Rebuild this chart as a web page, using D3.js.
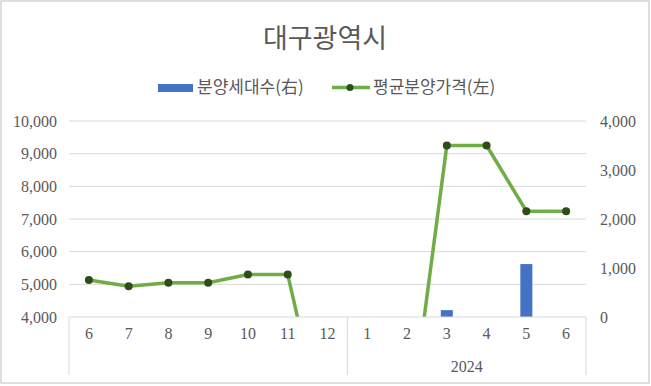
<!DOCTYPE html>
<html>
<head>
<meta charset="utf-8">
<script src="https://cdn.jsdelivr.net/npm/d3@7"></script>
<style>
  body { margin: 0; background: #fff; }
</style>
</head>
<body>
<svg id="chart"></svg>
<script>
// 월별 값 (2023.6 ~ 2024.6)
var months = ["6", "7", "8", "9", "10", "11", "12", "1", "2", "3", "4", "5", "6"];
var yearGroups = [{label: "", from: 0, to: 6}, {label: "2024", from: 7, to: 12}];
var price = [5130, 4940, 5050, 5050, 5300, 5300, 0, 0, 0, 9250, 9250, 7240, 7240]; // 평균분양가격(左)
var units = [0, 0, 0, 0, 0, 0, 0, 0, 0, 140, 0, 1080, 0];                      // 분양세대수(右)
var leftTicks = [4000, 5000, 6000, 7000, 8000, 9000, 10000];
var rightTicks = [0, 1000, 2000, 3000, 4000];

var width = 651, height = 386;
var plotL = 69, plotR = 586, plotT = 121, plotB = 317;
var serif = "'Liberation Serif', 'Times New Roman', serif";

var svg = d3.select("#chart")
    .attr("width", width)
    .attr("height", height);

// 바깥 테두리
svg.append("rect")
    .attr("x", 1).attr("y", 1)
    .attr("width", width - 3).attr("height", 382)
    .attr("fill", "none")
    .attr("stroke", "#d4d4d4")
    .attr("stroke-width", 1.5);

var x = d3.scaleBand().domain(d3.range(months.length)).range([plotL, plotR]);
var yL = d3.scaleLinear().domain([4000, 10000]).range([plotB, plotT]);
var yR = d3.scaleLinear().domain([0, 4000]).range([plotB, plotT]);

// 제목
svg.append("text")
    .attr("x", 325).attr("y", 48)
    .attr("text-anchor", "middle")
    .attr("font-family", "'Noto Sans CJK KR', sans-serif")
    .attr("font-size", 27)
    .attr("fill", "#595959")
    .text("대구광역시");

// 범례
var legend = svg.append("g")
    .attr("font-family", "'Noto Sans CJK KR', sans-serif")
    .attr("font-size", 17)
    .attr("fill", "#595959");
legend.append("rect")
    .attr("x", 158).attr("y", 84).attr("width", 35).attr("height", 8)
    .attr("fill", "#4472c4");
legend.append("text").attr("x", 197).attr("y", 93).text("분양세대수(右)");
legend.append("line")
    .attr("x1", 332).attr("x2", 370).attr("y1", 87.5).attr("y2", 87.5)
    .attr("stroke", "#70ad47").attr("stroke-width", 3.5);
legend.append("circle").attr("cx", 350).attr("cy", 87.5).attr("r", 3.5).attr("fill", "#2e4d1c");
legend.append("text").attr("x", 373).attr("y", 93).text("평균분양가격(左)");

// 격자선
svg.append("g").selectAll("line")
    .data(leftTicks.slice(1))
    .enter()
    .append("line")
    .attr("x1", plotL).attr("x2", plotR)
    .attr("y1", function(d) { return yL(d); })
    .attr("y2", function(d) { return yL(d); })
    .attr("stroke", "#d9d9d9");

function styleTicks(ax, size) {
    ax.select(".domain").remove();
    ax.attr("font-family", serif).attr("font-size", size);
    ax.selectAll(".tick text").attr("fill", "#595959");
}

// 왼쪽 축
var axL = svg.append("g")
    .attr("transform", "translate(" + (plotL - 4) + ",0)")
    .call(d3.axisLeft(yL).tickValues(leftTicks).tickSize(0).tickPadding(8).tickFormat(d3.format(",")));
styleTicks(axL, 16);

// 오른쪽 축
var axR = svg.append("g")
    .attr("transform", "translate(" + (plotR + 6) + ",0)")
    .call(d3.axisRight(yR).tickValues(rightTicks).tickSize(0).tickPadding(8).tickFormat(d3.format(",")));
styleTicks(axR, 16);

// 막대
svg.append("g").selectAll("rect")
    .data(units)
    .enter()
    .append("rect")
    .attr("x", function(d, i) { return x(i) + x.bandwidth() / 2 - 6; })
    .attr("y", function(d) { return yR(d); })
    .attr("width", 12)
    .attr("height", function(d) { return plotB - yR(d); })
    .attr("fill", "#4472c4");

// 선 (플롯 영역 밖은 잘라냄)
svg.append("clipPath").attr("id", "plot")
    .append("rect").attr("x", plotL).attr("y", plotT - 20)
    .attr("width", plotR - plotL).attr("height", plotB - plotT + 20);

var line = d3.line()
    .x(function(d, i) { return x(i) + x.bandwidth() / 2; })
    .y(function(d) { return yL(d); });

var g = svg.append("g").attr("clip-path", "url(#plot)");
g.append("path")
    .datum(price)
    .attr("d", line)
    .attr("fill", "none")
    .attr("stroke", "#70ad47")
    .attr("stroke-width", 3.5)
    .attr("stroke-linejoin", "round");
g.selectAll("circle")
    .data(price)
    .enter()
    .append("circle")
    .attr("cx", function(d, i) { return x(i) + x.bandwidth() / 2; })
    .attr("cy", function(d) { return yL(d); })
    .attr("r", 4)
    .attr("fill", "#2e4d1c");

// 가로축 (월 / 연도 구분)
var frame = svg.append("g").attr("stroke", "#d9d9d9").attr("fill", "none");
frame.append("line").attr("x1", plotL).attr("x2", plotR).attr("y1", plotB).attr("y2", plotB);
[plotL, x(7), plotR].forEach(function(v) {
    frame.append("line").attr("x1", v).attr("x2", v).attr("y1", plotB).attr("y2", 375);
});

var axX = svg.append("g")
    .attr("transform", "translate(0," + plotB + ")")
    .call(d3.axisBottom(x).tickSize(0).tickPadding(11).tickFormat(function(i) { return months[i]; }));
styleTicks(axX, 16);

svg.append("g").selectAll("text")
    .data(yearGroups)
    .enter()
    .append("text")
    .attr("x", function(d) { return (x(d.from) + x(d.to) + x.bandwidth()) / 2; })
    .attr("y", 372)
    .attr("text-anchor", "middle")
    .attr("font-family", serif)
    .attr("font-size", 16)
    .attr("fill", "#595959")
    .text(function(d) { return d.label; });
</script>
</body>
</html>
